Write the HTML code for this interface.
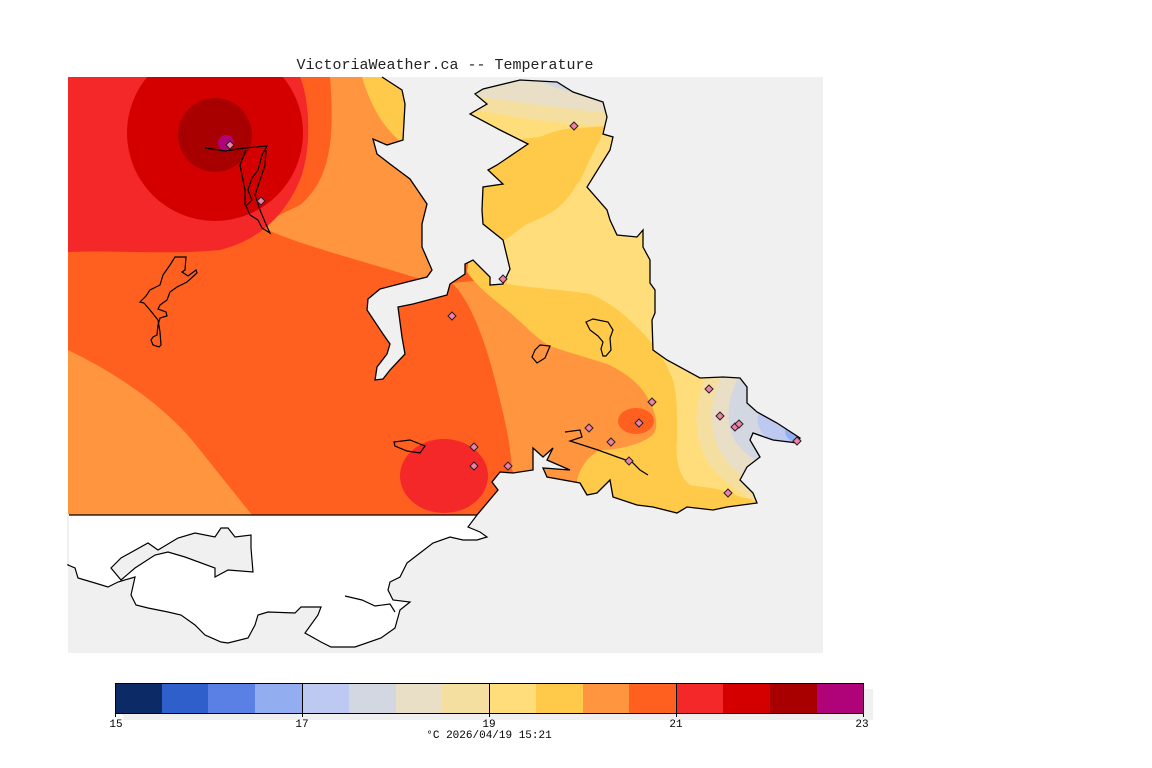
<!DOCTYPE html>
<html><head><meta charset="utf-8"><style>
html,body{margin:0;padding:0;background:#fff;}
svg{display:block;font-family:"Liberation Sans",sans-serif;}
</style></head><body>
<svg width="1152" height="768" viewBox="0 0 1152 768" xmlns="http://www.w3.org/2000/svg">
<defs>
<clipPath id="land"><path d="M68,77 L382,77 L402,90 L405,104 L403,140 L387,145 L373,139 L377,154 L390,164 L410,179 L427,204 L422,224 L422,247 L432,270 L427,277 L407,282 L380,289 L368,299 L367,310 L383,334 L390,344 L387,354 L377,367 L375,380 L383,379 L390,370 L405,354 L402,337 L398,307 L413,304 L447,295 L450,284 L465,274 L465,264 L473,260 L490,277 L490,285 L503,284 L510,269 L503,240 L483,224 L482,210 L483,187 L503,184 L488,170 L497,165 L528,144 L500,130 L470,114 L487,104 L475,94 L483,89 L520,80 L557,82 L573,92 L603,102 L607,117 L603,134 L613,137 L610,150 L587,187 L607,210 L610,220 L617,235 L637,237 L643,230 L643,247 L650,260 L650,283 L655,290 L655,313 L652,320 L653,350 L667,360 L700,378 L723,377 L740,378 L747,387 L747,403 L757,412 L777,423 L800,438 L798,443 L773,440 L753,433 L750,440 L760,457 L747,467 L740,480 L753,493 L757,503 L727,507 L713,510 L687,507 L677,513 L653,507 L637,505 L613,497 L610,480 L597,493 L587,495 L580,483 L547,477 L543,468 L570,470 L547,460 L553,448 L543,457 L533,448 L533,470 L513,473 L500,472 L492,482 L498,490 L477,515 L68,515 Z"/></clipPath>
</defs>
<rect x="68" y="77" width="755" height="576" fill="#f0f0f0"/>
<g clip-path="url(#land)">
<rect x="68" y="77" width="760" height="440" fill="#ff6020"/>
<path d="M68,350 C120,375 170,410 200,450 C220,475 240,500 252,515 L68,515 Z" fill="#ff953f"/>
<path d="M330,77 C335,140 330,180 300,205 C280,215 265,220 268,230 C300,245 360,260 440,285 L440,77 Z" fill="#ff953f"/>
<path d="M362,77 C372,110 385,130 405,145 L410,77 Z" fill="#ffc94a"/>
<path d="M68,77 L300,77 C310,100 312,150 300,180 C285,215 260,240 220,250 C170,255 120,250 68,252 Z" fill="#f42828"/>
<circle cx="215" cy="133" r="88" fill="#d40000"/>
<circle cx="215" cy="135" r="37" fill="#a80000"/>
<circle cx="226" cy="143" r="8" fill="#b0037a"/>
<ellipse cx="444" cy="476" rx="44" ry="37" fill="#f42828"/>
<path d="M452,283 C470,300 485,340 495,380 C505,420 510,440 512,470 L540,515 L830,515 L830,250 Z" fill="#ff953f"/>
<path d="M467,272 C480,290 495,300 507,310 C530,330 540,342 553,347 C580,356 595,360 607,364 C625,372 640,384 647,397 C660,420 658,432 650,437 C640,444 620,450 600,450 C585,458 580,470 577,480 L575,515 L830,515 L830,77 L480,77 C475,150 480,200 470,250 Z" fill="#ffc94a"/>
<path d="M507,284 C530,288 557,289 590,294 C610,302 625,315 640,330 C655,345 665,360 673,380 C678,400 677,420 677,440 C675,460 680,478 690,485 C705,488 720,487 740,497 L830,515 L830,77 L620,77 L600,140 C585,165 583,180 577,184 C565,205 553,214 527,224 C515,232 507,240 503,240 Z" fill="#fedd7a"/>
<path d="M470,77 L470,150 C490,140 520,140 540,137 C555,130 573,127 580,128 L620,125 L620,77 Z" fill="#fedd7a"/>
<path d="M465,77 L465,108 C500,115 540,122 600,126 L620,126 L620,77 Z" fill="#f5dfa0"/>
<path d="M465,77 L465,95 C500,100 540,105 600,112 L620,112 L620,77 Z" fill="#e8dfc6"/>
<path d="M530,77 C545,85 565,92 610,100 L620,100 L620,77 Z" fill="#d3d7e1"/>
<ellipse cx="636" cy="421" rx="18" ry="13" fill="#ff6020"/>
<path d="M830,370 L710,370 C698,390 695,410 697,430 C700,455 710,470 730,485 L760,505 L830,505 Z" fill="#f5dfa0"/>
<path d="M830,370 L725,370 C713,390 710,410 713,430 C716,450 728,465 745,478 L830,478 Z" fill="#e8dfc6"/>
<path d="M830,375 L740,375 C730,392 726,410 730,428 C734,445 745,455 760,462 L830,462 Z" fill="#d3d7e1"/>
<path d="M830,405 L760,410 C755,420 758,432 770,440 L830,445 Z" fill="#bdc9f0"/>
<path d="M830,425 L786,428 C783,435 788,441 800,444 L830,445 Z" fill="#93aef0"/>
</g>
<g fill="none" stroke="#000" stroke-width="1.3">
<path d="M382,77 L402,90 L405,104 L403,140 L387,145 L373,139 L377,154 L390,164 L410,179 L427,204 L422,224 L422,247 L432,270 L427,277 L407,282 L380,289 L368,299 L367,310 L383,334 L390,344 L387,354 L377,367 L375,380 L383,379 L390,370 L405,354 L402,337 L398,307 L413,304 L447,295 L450,284 L465,274 L465,264 L473,260 L490,277 L490,285 L503,284 L510,269 L503,240 L483,224 L482,210 L483,187 L503,184 L488,170 L497,165 L528,144 L500,130 L470,114 L487,104 L475,94 L483,89 L520,80 L557,82 L573,92 L603,102 L607,117 L603,134 L613,137 L610,150 L587,187 L607,210 L610,220 L617,235 L637,237 L643,230 L643,247 L650,260 L650,283 L655,290 L655,313 L652,320 L653,350 L667,360 L700,378 L723,377 L740,378 L747,387 L747,403 L757,412 L777,423 L800,438 L798,443 L773,440 L753,433 L750,440 L760,457 L747,467 L740,480 L753,493 L757,503 L727,507 L713,510 L687,507 L677,513 L653,507 L637,505 L613,497 L610,480 L597,493 L587,495 L580,483 L547,477 L543,468 L570,470 L547,460 L553,448 L543,457 L533,448 L533,470 L513,473 L500,472 L492,482 L498,490 L477,515"/>
</g>
<path d="M68,515 L477,515 L468,527 L480,532 L487,537 L477,540 L463,540 L450,537 L433,543 L420,553 L407,563 L400,577 L390,582 L388,590 L393,600 L410,602 L400,610 L395,628 L381,638 L355,647 L331,647 L321,642 L305,633 L318,615 L321,607 L301,607 L295,613 L268,612 L258,615 L255,625 L248,638 L228,643 L221,642 L205,635 L195,625 L181,615 L168,612 L148,608 L136,605 L131,595 L135,577 L118,582 L108,587 L95,583 L78,578 L75,568 L68,565 Z" fill="#fff" stroke="#000" stroke-width="1.2"/>
<path d="M111,568 L121,558 L148,543 L158,550 L178,538 L195,533 L215,537 L221,528 L228,528 L235,537 L251,535 L251,548 L253,572 L228,570 L215,577 L215,568 L185,557 L168,552 L155,555 L135,568 L121,580 Z" fill="#f0f0f0" stroke="#000" stroke-width="1.2"/>
<path d="M345,596 L362,600 L375,606 L390,604 L395,612" fill="none" stroke="#000" stroke-width="1.2"/>
<rect x="67" y="514" width="2" height="50" fill="#f0f0f0"/>
<path d="M175,257 L186,257 L185,270 L182,272 L188,276 L196,270 L197,273 L187,282 L177,287 L170,292 L167,300 L160,305 L158,309 L166,312 L167,316 L160,318 L158,325 L157,335 L153,337 L151,340 L153,345 L159,347 L161,345 L160,332 L158,320 L150,310 L144,303 L140,302 L146,296 L150,290 L160,285 L163,275 L170,265 Z" fill="none" stroke="#000" stroke-width="1.2"/>
<path d="M205,148 L225,151 L245,148 L267,146 L262,155 L258,170 L252,178 L248,190 L252,200 L246,206 L250,215 L258,220 L262,228 L270,233 L265,222 L260,210 L255,195 L260,180 L265,165 L266,150" fill="none" stroke="#000" stroke-width="1.2"/>
<path d="M246,150 L240,165 L245,190 L245,205" fill="none" stroke="#000" stroke-width="1.2"/>
<path d="M586,322 L593,319 L608,322 L613,330 L610,338 L611,350 L606,356 L603,356 L601,349 L603,342 L598,336 L590,330 Z" fill="none" stroke="#000" stroke-width="1.2"/>
<path d="M540,345 L550,346 L545,358 L537,363 L532,357 L535,350 Z" fill="none" stroke="#000" stroke-width="1.2"/>
<path d="M394,442 L410,440 L425,446 L420,453 L407,451 L395,446 Z" fill="none" stroke="#000" stroke-width="1.2"/>
<path d="M565,432 L580,430 L582,437 L570,441 L598,450 L620,458 L632,462 L640,470 L648,475" fill="none" stroke="#000" stroke-width="1.2"/>
<g fill="#f080a8" stroke="#222" stroke-width="1">
<path d="M230,141 l4,4 l-4,4 l-4,-4z"/>
<path d="M261,197 l4,4 l-4,4 l-4,-4z"/>
<path d="M574,122 l4,4 l-4,4 l-4,-4z"/>
<path d="M503,275 l4,4 l-4,4 l-4,-4z"/>
<path d="M452,312 l4,4 l-4,4 l-4,-4z"/>
<path d="M709,385 l4,4 l-4,4 l-4,-4z"/>
<path d="M652,398 l4,4 l-4,4 l-4,-4z"/>
<path d="M720,412 l4,4 l-4,4 l-4,-4z"/>
<path d="M639,419 l4,4 l-4,4 l-4,-4z"/>
<path d="M589,424 l4,4 l-4,4 l-4,-4z"/>
<path d="M611,438 l4,4 l-4,4 l-4,-4z"/>
<path d="M629,457 l4,4 l-4,4 l-4,-4z"/>
<path d="M508,462 l4,4 l-4,4 l-4,-4z"/>
<path d="M474,443 l4,4 l-4,4 l-4,-4z"/>
<path d="M474,462 l4,4 l-4,4 l-4,-4z"/>
<path d="M728,489 l4,4 l-4,4 l-4,-4z"/>
<path d="M735,423 l4,4 l-4,4 l-4,-4z"/>
<path d="M739,420 l4,4 l-4,4 l-4,-4z"/>
<path d="M797,437 l4,4 l-4,4 l-4,-4z"/>
</g>
<text x="445" y="69" text-anchor="middle" font-size="15" fill="#222" font-family="Liberation Mono, monospace">VictoriaWeather.ca -- Temperature</text>
<rect x="123" y="689" width="750" height="31" fill="#f0f0f0"/>
<g>
<rect x="115" y="683" width="47" height="30" fill="#0b2a66"/>
<rect x="162" y="683" width="47" height="30" fill="#2f5fcb"/>
<rect x="208" y="683" width="47" height="30" fill="#5a80e5"/>
<rect x="255" y="683" width="47" height="30" fill="#93aef0"/>
<rect x="302" y="683" width="47" height="30" fill="#bdc9f0"/>
<rect x="349" y="683" width="47" height="30" fill="#d3d7e1"/>
<rect x="396" y="683" width="47" height="30" fill="#e8dfc6"/>
<rect x="442" y="683" width="47" height="30" fill="#f5dfa0"/>
<rect x="489" y="683" width="47" height="30" fill="#fedd7a"/>
<rect x="536" y="683" width="47" height="30" fill="#ffc94a"/>
<rect x="583" y="683" width="47" height="30" fill="#ff953f"/>
<rect x="629" y="683" width="47" height="30" fill="#ff6020"/>
<rect x="676" y="683" width="47" height="30" fill="#f42828"/>
<rect x="723" y="683" width="47" height="30" fill="#d40000"/>
<rect x="770" y="683" width="47" height="30" fill="#a80000"/>
<rect x="817" y="683" width="46" height="30" fill="#b0037a"/>
</g>
<rect x="115.5" y="683.5" width="748" height="30" fill="none" stroke="#000" stroke-width="1"/>
<g stroke="#000" stroke-width="1">
<line x1="302.5" y1="683" x2="302.5" y2="717"/>
<line x1="489.5" y1="683" x2="489.5" y2="717"/>
<line x1="676.5" y1="683" x2="676.5" y2="717"/>
<line x1="115.5" y1="713" x2="115.5" y2="717"/>
<line x1="863.5" y1="713" x2="863.5" y2="717"/>
</g>
<g font-size="11" fill="#000" text-anchor="middle" font-family="Liberation Mono, monospace">
<text x="116" y="727">15</text>
<text x="302" y="727">17</text>
<text x="489" y="727">19</text>
<text x="676" y="727">21</text>
<text x="862" y="727">23</text>
<text x="489" y="738">°C  2026/04/19 15:21</text>
</g>
</svg>
</body></html>
